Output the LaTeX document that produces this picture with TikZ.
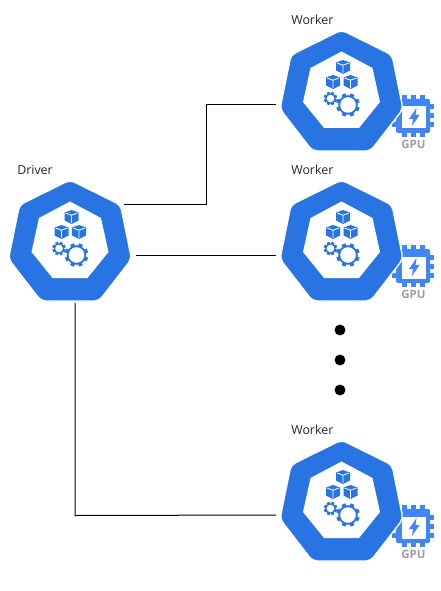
\documentclass[tikz,border=0pt]{standalone}
\usepackage{fontspec}
\setmainfont{Open Sans}
\definecolor{kblue}{RGB}{40,116,226}
\definecolor{gblue}{RGB}{66,133,244}
\definecolor{ggray}{RGB}{158,158,158}
\tikzset{
  x=0.75pt,y=-0.75pt,
  link/.style={draw=black,line width=0.75pt},
  lbl/.style={anchor=west,inner sep=0pt,font=\fontsize{9.3}{10}\selectfont,text=black!85},
  hub/.style={inner sep=0pt,minimum width=98pt,minimum height=72pt,draw=none},
  dotn/.style={circle,fill=black,inner sep=0pt,minimum size=8.2pt},
  pics/cube/.style={code={
    \fill[kblue] (0,-7) -- (7,-4.5) -- (7,3.5) -- (0,7) -- (-7,3.5) -- (-7,-4.5) -- cycle;
    \draw[white,line width=0.6pt] (-6,-4) -- (0,-1.8) -- (6,-4) (0,-1.8) -- (0,6);
  }},
  pics/gearw/.style n args={3}{code={
    \foreach \a in {0,45,...,315}
      \fill[kblue,rotate=\a+22.5] (-#3,#1-1) rectangle (#3,#1+#3);
    \fill[kblue] (0,0) circle (#1);
    \fill[white] (0,0) circle (#2);
  }},
  pics/kube/.style={code={
    \draw[fill=kblue,draw=white,line width=1pt,rounded corners=3.5pt] (0,-75) -- (50.5,-50) -- (61.5,4) -- (29,46) -- (-29,46) -- (-61.5,4) -- (-50.5,-50) -- cycle;
    \fill[white] (0,-53.5) -- (31,-37) -- (38.5,-3) -- (17.5,23) -- (-17.5,23) -- (-38.5,-3) -- (-31,-37) -- cycle;
    \pic at (1.5,-38) {cube};
    \pic at (-8.5,-23) {cube};
    \pic at (9,-23) {cube};
    \pic at (-11,-6.5) {gearw={5.2}{3.8}{1.5}};
    \pic at (6.5,0) {gearw={9.8}{7.8}{2}};
  }},
  pics/gpu/.style={code={
    \foreach \i in {-9,0,9} {
      \fill[gblue] (\i-2.5,-21) rectangle (\i+2.5,21);
      \fill[gblue] (-21,\i-2.5) rectangle (21,\i+2.5);
    }
    \fill[gblue,rounded corners=1.5pt] (-17,-17) rectangle (17,17);
    \fill[white] (-11,-9.5) rectangle (13,12.5);
    \fill[gblue] (3.5,-8) -- (-4,3) -- (0,3) -- (-1,10) -- (6.5,-1) -- (2.5,-1) -- cycle;
    \node[inner sep=0pt,font=\bfseries\fontsize{8.6}{9}\selectfont,text=ggray] (gl) at (0.5,28) {GPU};
  }},
}
\begin{document}
\begin{tikzpicture}
\useasboundingbox (0,0) rectangle (440,591);
\fill[white] (0,0) rectangle (440,591);

\pic at (413,116) {gpu};
\pic at (413,266) {gpu};
\pic at (413,526) {gpu};
\pic at (341.5,105) {kube};
\pic at (341.5,255) {kube};
\pic at (341.5,515) {kube};
\pic at (70,255) {kube};

\node[hub] (w1) at (341.5,105) {};
\node[hub] (w2) at (341.5,255) {};
\node[hub] (w3) at (341.5,515) {};
\node[hub] (dr) at (70,255) {};
\coordinate (dt) at (124,205);
\coordinate (db) at (75,303);

\node[lbl] (lw1) at (291,20) {Worker};
\node[lbl] (lw2) at (291,170) {Worker};
\node[lbl] (lw3) at (291,430) {Worker};
\node[lbl] (ld) at (17,170) {Driver};

\node[dotn] (p1) at (340,330) {};
\node[dotn] (p2) at (340,360) {};
\node[dotn] (p3) at (340,390) {};

\draw[link] (dt) -- (206,205) -- (206,105) -- (w1.west);
\draw[link] (dr.east) -- (w2.west);
\draw[link] (db) -- (75,515.5) -- (w3.west);
\end{tikzpicture}
\end{document}
